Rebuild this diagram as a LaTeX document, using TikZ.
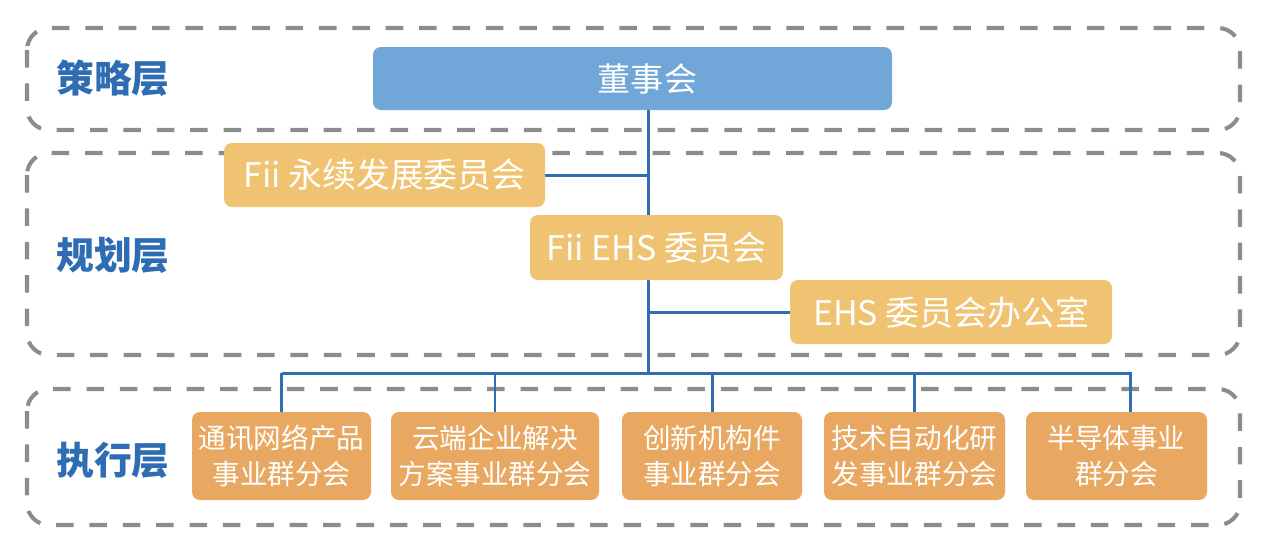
\documentclass[tikz,border=0pt]{standalone}
\usepackage{fontspec}
\setmainfont{Noto Sans CJK SC}
\usetikzlibrary{backgrounds}
\definecolor{layergray}{HTML}{8C8C8C}
\definecolor{layerblue}{HTML}{2E6CB3}
\definecolor{linkblue}{HTML}{2F6DB5}
\definecolor{topblue}{HTML}{71A6D8}
\definecolor{midorange}{HTML}{F0C372}
\definecolor{loworange}{HTML}{E9A862}
\begin{document}
\begin{tikzpicture}[x=0.02cm,y=-0.02cm,
    layerbox/.style={draw=layergray,line width=2.3pt,dash pattern=on 10pt off 9pt,rounded corners=0.44cm},
    layername/.style={text=layerblue,font=\bfseries\fontsize{21.5}{24}\selectfont},
    unit/.style={rounded corners=0.16cm,text=white,align=center,inner sep=0pt},
    topunit/.style={unit,fill=topblue,font=\fontsize{18.8}{21}\selectfont},
    midunit/.style={unit,fill=midorange,font=\fontsize{19.3}{21}\selectfont},
    lowunit/.style={unit,fill=loworange,font=\fontsize{15.7}{20.5}\selectfont,minimum height=88*0.02cm},
    link/.style={draw=linkblue,line width=1.7pt}]
  \useasboundingbox (0,0) rectangle (1268,556);
  % layer names
  \node[layername] (celue) at (113,78) {策略层};
  \node[layername] (guihua) at (113,255) {规划层};
  \node[layername] (zhixing) at (113,460) {执行层};
  % committees
  \node[topunit,minimum width=519*0.02cm,minimum height=63*0.02cm] (dongshi) at (632.5,78.5) {\hspace*{0.6cm}董事会};
  \node[midunit,minimum width=321*0.02cm,minimum height=64*0.02cm] (yongxu) at (384.5,175) {Fii 永续发展委员会};
  \node[midunit,minimum width=253*0.02cm,minimum height=65*0.02cm] (ehs) at (656.5,247.5) {Fii EHS 委员会};
  \node[midunit,minimum width=322*0.02cm,minimum height=64*0.02cm] (office) at (951,312) {EHS 委员会办公室};
  % business groups
  \node[lowunit,minimum width=179*0.02cm] (tongxun) at (281.5,456) {通讯网络产品\\事业群分会};
  \node[lowunit,minimum width=208*0.02cm] (yunduan) at (495,456) {云端企业解决\\方案事业群分会};
  \node[lowunit,minimum width=180*0.02cm] (chuangxin) at (712,456) {创新机构件\\事业群分会};
  \node[lowunit,minimum width=181*0.02cm] (jishu) at (914.5,456) {技术自动化研\\发事业群分会};
  \node[lowunit,minimum width=181*0.02cm] (bandaoti) at (1116.5,456) {半导体事业\\群分会};
  \coordinate (bus) at (648,373);
  \coordinate (busend) at (1130,373);
  \begin{scope}[on background layer]
    \draw[layerbox] (27,28) rectangle (1240,130);
    \draw[layerbox] (27,153) rectangle (1240,355);
    \draw[layerbox] (27,389) rectangle (1240,525);
    \draw[link] (dongshi.south -| bus) -- (bus);
    \draw[link] (yongxu.east) -- (yongxu.east -| bus);
    \draw[link] (office.west) -- (office.west -| bus);
    \draw[link] (tongxun.north |- bus) -- (busend) -- (busend |- bandaoti.north);
    \foreach \g in {tongxun,yunduan,chuangxin,jishu}
      \draw[link] (\g.north |- bus) -- (\g.north);
  \end{scope}
\end{tikzpicture}
\end{document}
